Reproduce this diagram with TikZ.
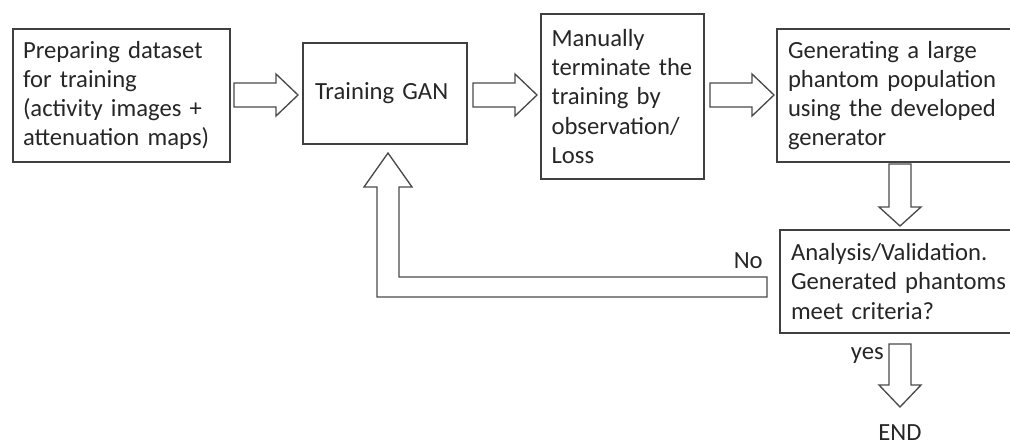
\documentclass[tikz,border=0pt]{standalone}
\usepackage{fontspec}
\setmainfont{Carlito}
\hyphenpenalty=10000
\exhyphenpenalty=10000
\begin{document}
\begin{tikzpicture}[x=0.75pt,y=-0.75pt,
  box/.style={draw=boxgray,line width=1.2pt,inner sep=0pt,align=left,
    font=\fontsize{18.5}{21.8}\selectfont,text=black!85},
  blockarrow/.style={draw=arrgray,line width=1pt,fill=white,line join=miter},
  lbl/.style={inner sep=0pt,font=\fontsize{18.5}{21.8}\selectfont,text=black!85}]
\definecolor{boxgray}{HTML}{404040}
\definecolor{arrgray}{HTML}{4A4A4A}
\path[use as bounding box] (0,0) rectangle (1010,445);
\clip (0,0) rectangle (1010,445);

\node[box,minimum width=162.75pt,minimum height=99.75pt,text width=147.75pt] (prep) at (121.5,95.5)
  {Preparing dataset\\for training\\(activity images +\\attenuation maps)};
\node[box,minimum width=123pt,minimum height=75.75pt,text width=105pt] (train) at (385,93.5)
  {Training GAN};
\node[box,minimum width=122.25pt,minimum height=123.75pt,text width=106.5pt] (term) at (622.5,96.5)
  {Manually\\terminate the\\training by\\observation/\\Loss};
\node[box,minimum width=189.75pt,minimum height=99.75pt,text width=173.25pt] (gen) at (903.5,95.5)
  {Generating a large\\phantom population\\using the developed\\generator};
\node[box,minimum width=187.5pt,minimum height=77.25pt,text width=171pt] (val) at (905,281.5)
  {Analysis/Validation.\\Generated phantoms\\meet criteria?};

% horizontal block arrows
\draw[blockarrow] (234,83) -- (276,83) -- (276,74) -- (298,95) -- (276,116) -- (276,107) -- (234,107) -- cycle;
\draw[blockarrow] (473,83) -- (515,83) -- (515,74) -- (537,95) -- (515,116) -- (515,107) -- (473,107) -- cycle;
\draw[blockarrow] (710,83) -- (752,83) -- (752,74) -- (774,95) -- (752,116) -- (752,107) -- (710,107) -- cycle;
% down arrow gen -> val
\draw[blockarrow] (889,164) -- (911,164) -- (911,207) -- (921,207) -- (900,226) -- (879,207) -- (889,207) -- cycle;
% yes arrow
\draw[blockarrow] (889,344) -- (911,344) -- (911,385) -- (921,385) -- (900,407) -- (879,385) -- (889,385) -- cycle;
% No feedback arrow
\draw[blockarrow] (388,153) -- (412,187) -- (399,187) -- (399,277) -- (767,277) -- (767,297) -- (377,297) -- (377,187) -- (364,187) -- cycle;

\node[lbl,anchor=base east] (no) at (763,269) {No};
\node[lbl,anchor=base east] (yes) at (884,359) {yes};
\node[lbl,anchor=base] (end) at (900,440) {END};
\end{tikzpicture}
\end{document}
